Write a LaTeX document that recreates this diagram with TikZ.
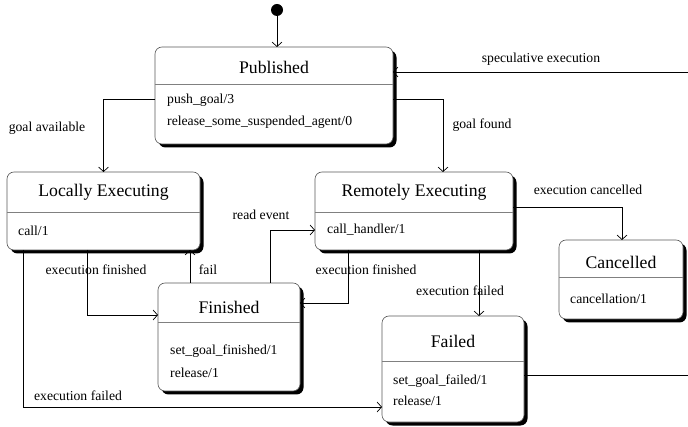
\documentclass[tikz,border=0pt]{standalone}
\usepackage{fontspec}
\setmainfont{Liberation Serif}
\usetikzlibrary{arrows.meta,shadows}
\begin{document}
\begin{tikzpicture}[x=1pt,y=-1pt,
  box/.style={draw=black!65,line width=0.6pt,rounded corners=7pt,fill=white,
    drop shadow={shadow xshift=3.5pt,shadow yshift=-3.5pt,opacity=1,fill=black},
    inner sep=0pt,outer sep=0pt},
  divider/.style={draw=black!50,line width=0.6pt},
  ttl/.style={font=\fontsize{17.7}{20}\selectfont,inner sep=0pt},
  body/.style={font=\fontsize{13.7}{16}\selectfont,anchor=west,inner sep=0pt},
  lbl/.style={font=\fontsize{13.7}{16}\selectfont,inner sep=0pt},
  arr/.style={draw=black,line width=0.7pt,-{Straight Barb[length=4.5pt,width=10pt,line width=0.7pt]}},
  ln/.style={draw=black,line width=0.7pt}]
\useasboundingbox (0,0) rectangle (688,427);

% initial state
\node[circle,fill=black,minimum size=12pt,inner sep=0pt] (init) at (277,10) {};

% boxes
\node[box,minimum width=238pt,minimum height=97pt] (pub) at (274,95.5) {};
\node[box,minimum width=193pt,minimum height=78pt] (le) at (103.5,211) {};
\node[box,minimum width=198pt,minimum height=78pt] (re) at (414,211) {};
\node[box,minimum width=142pt,minimum height=108pt] (fin) at (229,337) {};
\node[box,minimum width=124pt,minimum height=79pt] (can) at (621,279.5) {};
\node[box,minimum width=142pt,minimum height=106pt] (fail) at (453,369) {};

% dividers
\draw[divider] (pub.west |- 0,84) -- (pub.east |- 0,84);
\draw[divider] (le.west |- 0,212) -- (le.east |- 0,212);
\draw[divider] (re.west |- 0,212) -- (re.east |- 0,212);
\draw[divider] (fin.west |- 0,322) -- (fin.east |- 0,322);
\draw[divider] (can.west |- 0,277) -- (can.east |- 0,277);
\draw[divider] (fail.west |- 0,361) -- (fail.east |- 0,361);

% titles
\node[ttl] (pubt) at (274,67) {Published};
\node[ttl] (let) at (103.5,192) {Locally Executing};
\node[ttl] (ret) at (414,192) {Remotely Executing};
\node[ttl] (fint) at (229,307) {Finished};
\node[ttl] (cant) at (621,262) {Cancelled};
\node[ttl] (failt) at (453,341) {Failed};

% bodies
\node[body] (pub1) at (167,100) {push\_goal/3};
\node[body] (pub2) at (167,122) {release\_some\_suspended\_agent/0};
\node[body] (le1) at (18,231) {call/1};
\node[body] (re1) at (327,230) {call\_handler/1};
\node[body] (fin1) at (170,351) {set\_goal\_finished/1};
\node[body] (fin2) at (170,373) {release/1};
\node[body] (can1) at (570,299) {cancellation/1};
\node[body] (fail1) at (393,381) {set\_goal\_failed/1};
\node[body] (fail2) at (393,401) {release/1};

% edge coordinates
\coordinate (specin) at (688,72);
\coordinate (failout) at (688,375);

% connectors
\draw[arr] (init) -- (pub.north -| init);
\draw[arr] (pub.west |- 0,99) -| (le.north);
\draw[arr] (pub.east |- 0,99) -| (re.north -| 443,0);
\draw[arr] (specin) -- (pub.east |- specin);
\draw[ln] (fail.east |- failout) -- (failout);
\draw[arr] (re.east |- 0,207) -| (can.north -| 622,0);
\draw[arr] (le.south -| 87,0) |- (fin.west |- 0,315);
\draw[arr] (fin.north -| 190,0) -- (le.south -| 190,0);
\draw[arr] (fin.north -| 270,0) |- (re.west |- 0,230);
\draw[arr] (re.south -| 348,0) |- (fin.east |- 0,303);
\draw[arr] (re.south -| 479,0) -- (fail.north -| 479,0);
\draw[arr] (le.south -| 23,0) |- (fail.west |- 0,407);

% labels
\node[lbl] (l1) at (541,59) {speculative execution};
\node[lbl] (l2) at (47,128) {goal available};
\node[lbl] (l3) at (482,125) {goal found};
\node[lbl] (l4) at (588,190) {execution cancelled};
\node[lbl] (l5) at (261,215) {read event};
\node[lbl] (l6) at (96,270) {execution finished};
\node[lbl] (l7) at (208,270) {fail};
\node[lbl] (l8) at (366,270) {execution finished};
\node[lbl] (l9) at (460,291) {execution failed};
\node[lbl] (l10) at (78,396) {execution failed};
\end{tikzpicture}
\end{document}
